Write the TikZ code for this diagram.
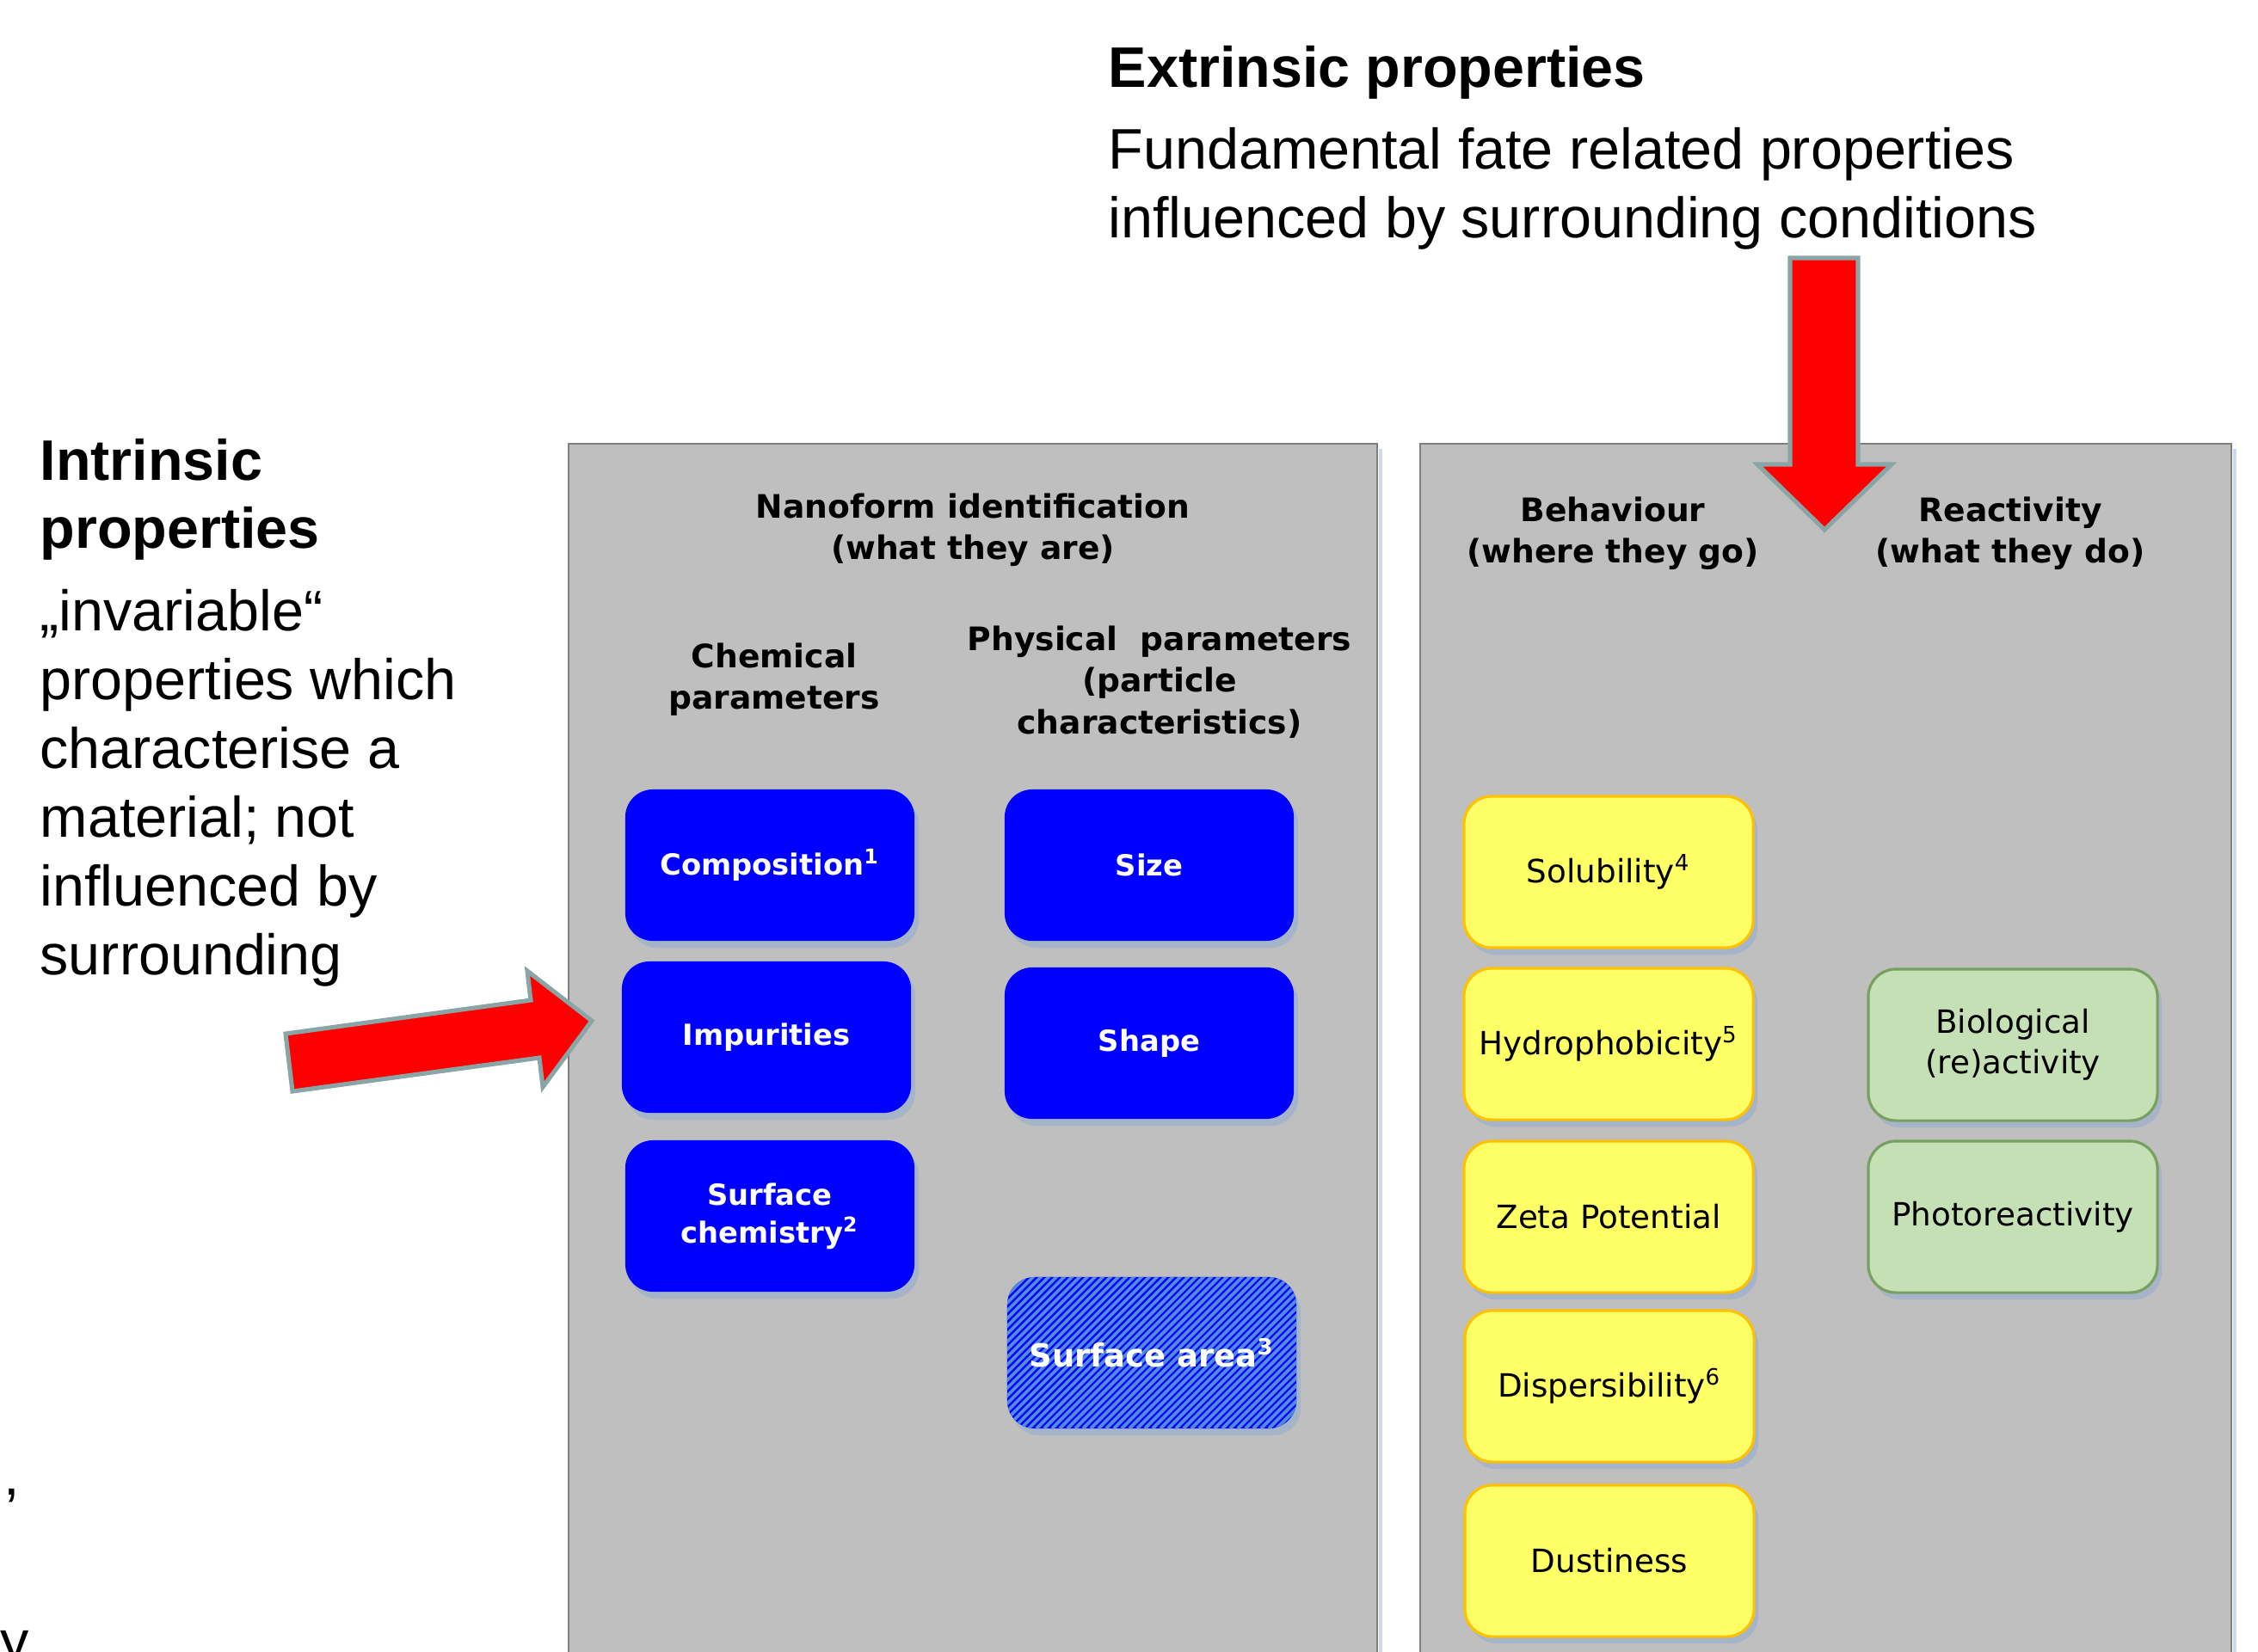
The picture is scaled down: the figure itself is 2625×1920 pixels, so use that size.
\documentclass[tikz,border=0pt]{standalone}
\usepackage{fontspec}
\setmainfont{Liberation Sans}
\newfontfamily\vfont{DejaVu Sans}
\usetikzlibrary{calc,shadows}

\definecolor{panelgray}{RGB}{191,191,191}
\definecolor{paneledge}{RGB}{127,127,127}
\definecolor{paneltint}{RGB}{205,218,235}
\definecolor{boxblue}{RGB}{0,0,255}
\definecolor{stripeblue}{RGB}{80,140,220}
\definecolor{boxyellow}{RGB}{255,255,102}
\definecolor{yellowedge}{RGB}{255,192,0}
\definecolor{boxgreen}{RGB}{197,224,180}
\definecolor{greenedge}{RGB}{120,160,95}
\definecolor{arrowred}{RGB}{255,0,0}
\definecolor{arrowedge}{RGB}{138,165,165}
\definecolor{boxshadow}{RGB}{165,180,200}

\tikzset{
  big/.style={font=\fontsize{18.9}{22.8}\selectfont, inner sep=0pt, anchor=base west},
  bigbold/.style={big, font=\fontsize{18.9}{22.8}\selectfont\bfseries},
  head/.style={font=\vfont\bfseries\fontsize{10.7}{13.7}\selectfont, align=center, inner sep=0pt},
  panel/.style={fill=panelgray, draw=paneledge, line width=0.7pt},
  card/.style={minimum width=3.36cm, minimum height=1.76cm, rounded corners=0.32cm,
    inner sep=0pt, align=center,
    drop shadow={shadow xshift=0.05cm, shadow yshift=-0.08cm, fill=boxshadow, opacity=1}},
  bluecard/.style={card, fill=boxblue, text=white,
    font=\vfont\bfseries\fontsize{9.6}{12.4}\selectfont},
  hatchcard/.style={bluecard, font=\vfont\bfseries\fontsize{10.5}{12.4}\selectfont,
    path picture={
      \foreach \k in {0,...,62}
        \draw[stripeblue, line width=1.1pt]
          ($(path picture bounding box.south west)+(\k*9-200,0)$) -- ++(260,-260);
    }},
  yellowcard/.style={card, fill=boxyellow, draw=yellowedge, line width=0.9pt,
    font=\vfont\fontsize{10.6}{13.4}\selectfont},
  greencard/.style={card, fill=boxgreen, draw=greenedge, line width=0.9pt,
    font=\vfont\fontsize{10.6}{13.4}\selectfont},
  blockarrow/.style={fill=arrowred, draw=arrowedge, line width=1.45pt, line join=miter}
}

\begin{document}
\begin{tikzpicture}[x=0.01cm, y=-0.01cm]
\useasboundingbox (0,0) rectangle (2625,1920);

% --- explanatory texts ---
\node[bigbold] (extr) at (1288,101) {Extrinsic properties};
\node[big] (fate1) at (1288,196) {Fundamental fate related properties};
\node[big] (fate2) at (1288,276) {influenced by surrounding conditions};

\node[bigbold] (intr1) at (46,558) {Intrinsic};
\node[bigbold] (intr2) at (46,637) {properties};
\node[big] (inv1) at (46,733) {„invariable“};
\node[big] (inv2) at (46,813) {properties which};
\node[big] (inv3) at (46,893) {characterise a};
\node[big] (inv4) at (46,973) {material; not};
\node[big] (inv5) at (46,1053) {influenced by};
\node[big] (inv6) at (46,1133) {surrounding};

\node[big] (comma) at (4,1738) {,};
\node[big] (ytail) at (0,1931) {y};

% --- panels ---
\fill[paneltint] (1603,522) rectangle (1607,1930);
\fill[paneltint] (2596,522) rectangle (2600,1930);
\draw[panel] (661,516) rectangle (1601,1930);
\draw[panel] (1651,516) rectangle (2594,1930);

% --- column headings ---
\node[head] (nano) at (1131,616) {Nanoform identification\\(what they are)};
\node[head] (chem) at (900,790) {Chemical\\parameters};
\node[head] (phys) at (1348,793) {Physical\ \ parameters\\(particle\\characteristics)};
\node[head] (behav) at (1875,620) {Behaviour\\(where they go)};
\node[head] (react) at (2337,620) {Reactivity\\(what they do)};

% --- chemical parameters ---
\node[bluecard] (comp) at (895,1006) {Composition\textsuperscript{1}};
\node[bluecard] (impu) at (891,1206) {Impurities};
\node[bluecard] (surfchem) at (895,1414) {Surface\\chemistry\textsuperscript{2}};

% --- physical parameters ---
\node[bluecard] (size) at (1336,1006) {Size};
\node[bluecard] (shape) at (1336,1213) {Shape};
\node[hatchcard] (surfarea) at (1339,1573) {Surface area\textsuperscript{3}};

% --- behaviour ---
\node[yellowcard] (solu) at (1870,1014) {Solubility\textsuperscript{4}};
\node[yellowcard] (hydro) at (1870,1214) {Hydrophobicity\textsuperscript{5}};
\node[yellowcard] (zeta) at (1870,1415) {Zeta Potential};
\node[yellowcard] (disp) at (1871,1612) {Dispersibility\textsuperscript{6}};
\node[yellowcard] (dust) at (1871,1815) {Dustiness};

% --- reactivity ---
\node[greencard] (bio) at (2340,1215) {Biological\\(re)activity};
\node[greencard] (photo) at (2340,1415) {Photoreactivity};

% --- block arrows ---
\draw[blockarrow] (2081,300) -- (2160,300) -- (2160,540) -- (2199,540)
  -- (2121,616) -- (2043,540) -- (2081,540) -- cycle;
\draw[blockarrow] (332,1202) -- (617,1163) -- (613,1129) -- (688,1187)
  -- (631,1264) -- (627,1230) -- (340,1269) -- cycle;
\end{tikzpicture}
\end{document}
